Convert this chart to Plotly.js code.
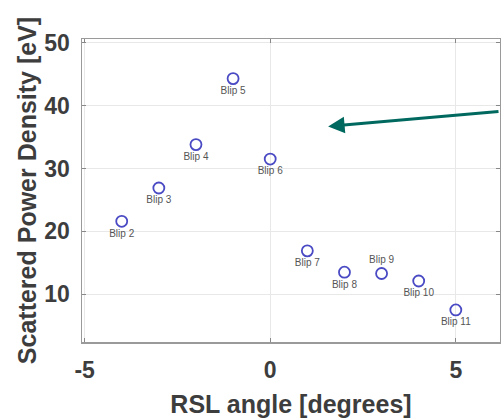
<!DOCTYPE html>
<html>
<head>
<meta charset="utf-8">
<script src="https://cdn.plot.ly/plotly-3.0.1.min.js"></script>
<style>
  html, body { margin: 0; padding: 0; background: #fff; }
  #chart { width: 501px; height: 418px; }
</style>
</head>
<body>
<div id="chart"></div>
<script>
// RSL angle (degrees) for each blip
const rslAngle = [-4, -3, -2, -1, 0, 1, 2, 3, 4, 5];
// Scattered power density (eV)
const powerDensity = [21.6, 26.9, 33.8, 44.3, 31.5, 16.9, 13.5, 13.3, 12.1, 7.5];
// Point labels and where each sits relative to its marker
const blipLabels = ['Blip 2', 'Blip 3', 'Blip 4', 'Blip 5', 'Blip 6',
                    'Blip 7', 'Blip 8', 'Blip 9', 'Blip 10', 'Blip 11'];
const labelPositions = ['bottom center', 'bottom center', 'bottom center', 'bottom center',
                        'bottom center', 'bottom center', 'bottom center', 'top center',
                        'bottom center', 'bottom center'];
const xTicks = [-5, 0, 5];
const yTicks = [10, 20, 30, 40, 50];

const axisFont = { family: 'Liberation Sans, Arial, sans-serif', size: 23, color: '#3d3d3d', weight: 'bold' };
const titleFont = { family: 'Liberation Sans, Arial, sans-serif', size: 25, color: '#3d3d3d', weight: 'bold' };

const trace = {
  x: rslAngle,
  y: powerDensity,
  mode: 'markers+text',
  type: 'scatter',
  text: blipLabels,
  textposition: labelPositions,
  textfont: { family: 'Liberation Sans, Arial, sans-serif', size: 10, color: '#555555' },
  marker: {
    symbol: 'circle-open',
    size: 11,
    color: '#4a4ac4',
    line: { width: 1.8, color: '#4a4ac4' }
  },
  hoverinfo: 'x+y+text',
  showlegend: false
};

const layout = {
  width: 501,
  height: 418,
  margin: { l: 82, r: 1, t: 39, b: 76 },
  paper_bgcolor: '#ffffff',
  plot_bgcolor: '#ffffff',
  xaxis: {
    range: [-5.07, 6.19],
    tickvals: xTicks,
    ticktext: xTicks.map(String),
    tickfont: axisFont,
    ticks: 'inside',
    ticklen: 4,
    tickcolor: '#888888',
    ticklabelstandoff: 7,
    showgrid: true,
    gridcolor: '#e8e8e8',
    gridwidth: 1,
    zeroline: false,
    showline: true,
    linecolor: '#9a9a9a',
    linewidth: 1.5,
    mirror: 'ticks',
    automargin: false,
    title: { text: 'RSL angle [degrees]', font: titleFont, standoff: 14 }
  },
  yaxis: {
    range: [2.4, 50.6],
    tickvals: yTicks,
    ticktext: yTicks.map(String),
    tickfont: axisFont,
    ticks: 'inside',
    ticklen: 4,
    tickcolor: '#888888',
    ticklabelstandoff: 6,
    showgrid: true,
    gridcolor: '#e8e8e8',
    gridwidth: 1,
    zeroline: false,
    showline: true,
    linecolor: '#9a9a9a',
    linewidth: 1.5,
    mirror: 'ticks',
    automargin: false,
    title: { text: 'Scattered Power Density [eV]', font: titleFont, standoff: 0 }
  },
  annotations: [{
    x: 1.56, y: 36.7, xref: 'x', yref: 'y',
    ax: 6.19, ay: 39.1, axref: 'x', ayref: 'y',
    text: '',
    showarrow: true,
    arrowhead: 2,
    arrowsize: 1.1,
    arrowwidth: 3,
    arrowcolor: '#00695f'
  }]
};

Plotly.newPlot('chart', [trace], layout, { displayModeBar: false, staticPlot: true });
</script>
</body>
</html>
